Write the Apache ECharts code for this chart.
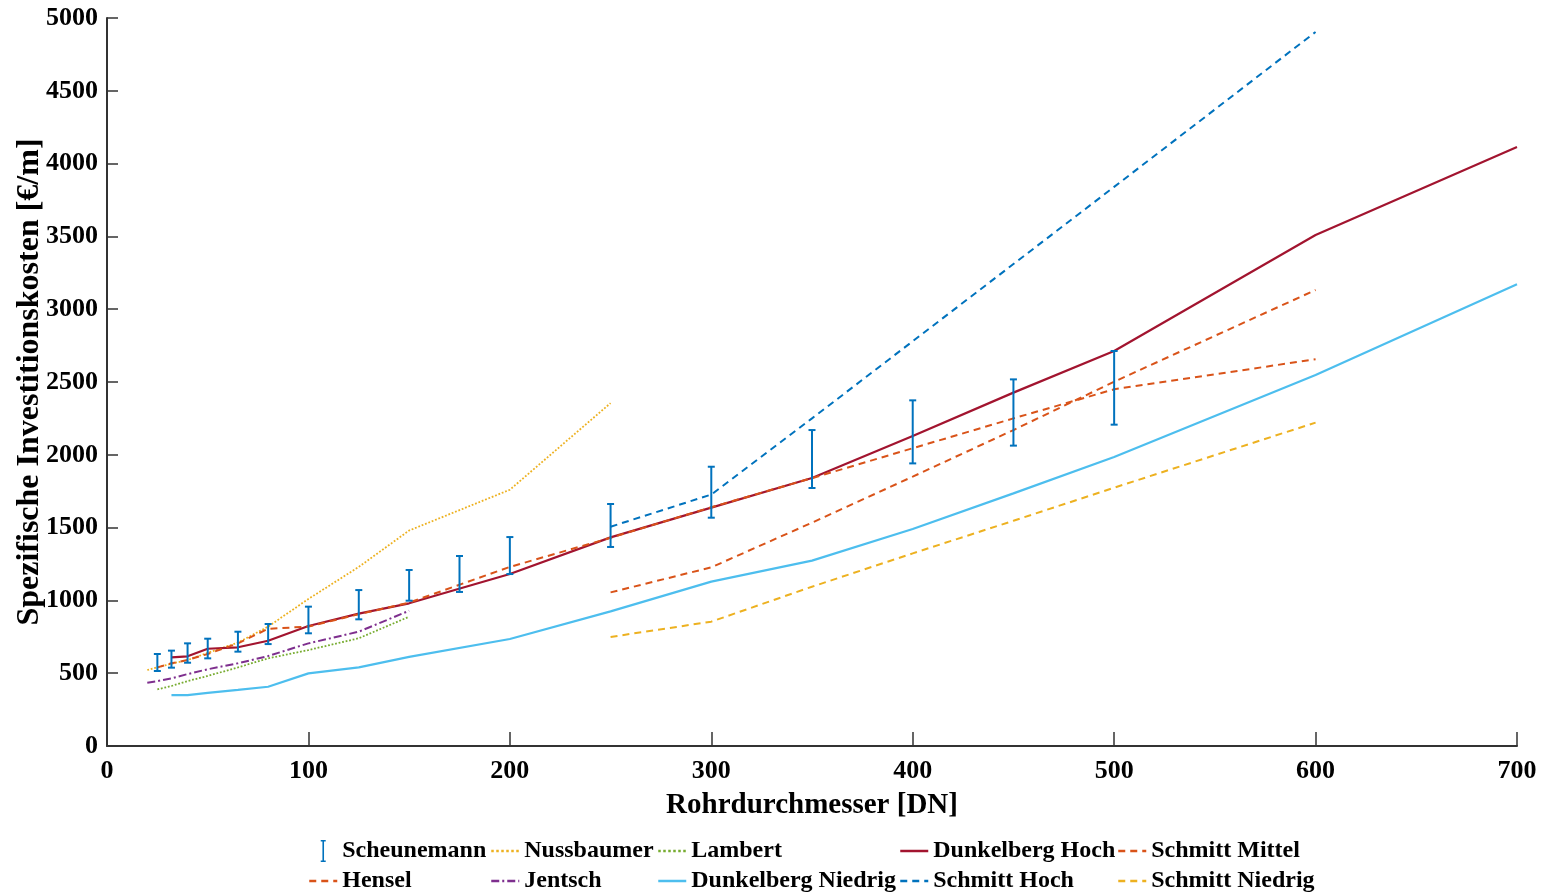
<!DOCTYPE html>
<html><head><meta charset="utf-8">
<script src="https://cdn.jsdelivr.net/npm/echarts@6/dist/echarts.min.js"></script>
<style>html,body{margin:0;padding:0;background:#fff}#c{width:1545px;height:896px}</style>
</head><body><div id="c"></div>
<script>
// ---- data ----
const xTicks = [0,100,200,300,400,500,600,700];
const yTicks = [0,500,1000,1500,2000,2500,3000,3500,4000,4500,5000];

const scheunemannDN   = [25,32,40,50,65,80,100,125,150,175,200,250,300,350,400,450,500];
const scheunemannLow  = [515,538,572,602,648,700,774,870,998,1058,1181,1367,1568,1772,1941,2063,2207];
const scheunemannHigh = [632,655,705,737,785,838,957,1071,1209,1305,1435,1662,1918,2170,2374,2518,2713];

const nussbaumerDN = [20,25,32,40,50,65,80,100,125,150,200,250];
const nussbaumer   = [522,540,565,590,640,710,820,1010,1230,1480,1760,2355];

const lambertDN = [25,32,40,50,65,80,100,125,150];
const lambert   = [389,412,446,481,540,602,659,740,888];

const dunkelbergDN   = [32,40,50,65,80,100,125,150,200,250,300,350,400,450,500,600,700];
const dunkelbergHoch = [609,616,668,678,723,824,909,980,1181,1433,1637,1841,2129,2427,2713,3510,4114];
const dunkelbergNiedrig = [350,350,365,385,407,499,540,612,735,925,1129,1273,1490,1735,1985,2548,3171];

const henselDN = [25,32,40,50,65,80,100,125,150,200,250,300,350,400,450,500,600];
const hensel   = [540,568,591,632,705,805,820,905,985,1230,1430,1640,1840,2045,2250,2450,2656];

const jentschDN = [20,25,32,40,50,65,80,100,125,150];
const jentsch   = [435,446,465,494,527,568,618,705,785,929];

const schmittDN      = [250,300,350,400,450,500,600];
const schmittHoch    = [1506,1727,2250,2780,3310,3840,4904];
const schmittMittel  = [1055,1227,1534,1850,2170,2502,3132];
const schmittNiedrig = [749,854,1094,1323,1547,1774,2221];

// ---- helpers ----
const zip = (xs, ys) => xs.map((x, i) => [x, ys[i]]);
const FONT = 'Liberation Serif';
const C = {blue:'#0072BD', orange:'#D95319', yellow:'#EDB120', purple:'#7E2F8E', green:'#77AC30', lblue:'#4DBEEE', red:'#A2142F'};

function lineSeries(name, xs, ys, color, type, width) {
  return {name, type:'line', data: zip(xs, ys), symbol:'none', silent:true,
    lineStyle:{color, width: width || 2, type}, itemStyle:{color}, z:2};
}

const errData = scheunemannDN.map((x, i) => [x, scheunemannLow[i], scheunemannHigh[i]]);

const series = [
  {name:'Scheunemann', type:'custom', data: errData, z:5,
    encode:{x:0, y:[1,2]},
    renderItem: function(params, api) {
      const lo = api.coord([api.value(0), api.value(1)]);
      const hi = api.coord([api.value(0), api.value(2)]);
      const w = 3.5;
      const st = {stroke: C.blue, lineWidth: 2};
      return {type:'group', children:[
        {type:'line', shape:{x1:lo[0], y1:lo[1], x2:hi[0], y2:hi[1]}, style:st},
        {type:'line', shape:{x1:lo[0]-w, y1:lo[1], x2:lo[0]+w, y2:lo[1]}, style:st},
        {type:'line', shape:{x1:hi[0]-w, y1:hi[1], x2:hi[0]+w, y2:hi[1]}, style:st}
      ]};
    },
    itemStyle:{color:C.blue}},
  lineSeries('Nussbaumer', nussbaumerDN, nussbaumer, C.yellow, 'dotted', 1.8),
  lineSeries('Lambert', lambertDN, lambert, C.green, 'dotted', 1.8),
  lineSeries('Dunkelberg Hoch', dunkelbergDN, dunkelbergHoch, C.red, 'solid', 2.2),
  lineSeries('Schmitt Mittel', schmittDN, schmittMittel, C.orange, [7,5], 2),
  lineSeries('Hensel', henselDN, hensel, C.orange, [7,5], 2),
  lineSeries('Jentsch', jentschDN, jentsch, C.purple, [8,3,2,3], 2),
  lineSeries('Dunkelberg Niedrig', dunkelbergDN, dunkelbergNiedrig, C.lblue, 'solid', 2.2),
  lineSeries('Schmitt Hoch', schmittDN, schmittHoch, C.blue, [7,5], 2),
  lineSeries('Schmitt Niedrig', schmittDN, schmittNiedrig, C.yellow, [7,5], 2)
];

const ibeam = 'path://M0,11h0.05v0.05h-0.05z M28,11h0.05v0.05h-0.05z M11.5,0H16.5V1.6H14.8V20.4H16.5V22H11.5V20.4H13.2V1.6H11.5Z';

function legendCol(left, names) {
  return {
    orient:'vertical', left, top:839, itemWidth:28, itemHeight:22, itemGap:6,
    selectedMode:false, padding:0,
    textStyle:{fontFamily:FONT, fontWeight:'bold', fontSize:24, color:'#000'},
    lineStyle:{width:2.5},
    data: names.map(n => n === 'Scheunemann'
      ? {name:n, icon: ibeam, itemStyle:{color:C.blue, borderWidth:0, opacity:1}}
      : {name:n, itemStyle:{opacity:0}})
  };
}

const option = {
  animation:false,
  backgroundColor:'#fff',
  grid:{left:107, right:28, top:18, bottom:150, containLabel:false, outerBoundsMode:'none'},
  xAxis:{type:'value', min:0, max:700, interval:100,
    name:'Rohrdurchmesser [DN]', nameLocation:'middle', nameGap:45, nameMoveOverlap:false,
    nameTextStyle:{fontFamily:FONT, fontWeight:'bold', fontSize:29, color:'#000'},
    axisLine:{show:true, lineStyle:{color:'#333', width:2}},
    axisTick:{show:true, inside:true, length:14, lineStyle:{color:'#333', width:1.5}},
    axisLabel:{fontFamily:FONT, fontWeight:'bold', fontSize:26, color:'#000', margin:12,
      formatter: v => xTicks.includes(v) ? String(v) : ''},
    splitLine:{show:false}},
  yAxis:{type:'value', min:0, max:5000, interval:500,
    name:'Spezifische Investitionskosten [€/m]', nameLocation:'middle', nameGap:61, nameMoveOverlap:false,
    nameTextStyle:{fontFamily:FONT, fontWeight:'bold', fontSize:32, color:'#000'},
    axisLine:{show:true, lineStyle:{color:'#333', width:2}},
    axisTick:{show:true, inside:true, length:11, lineStyle:{color:'#333', width:1.5}},
    axisLabel:{fontFamily:FONT, fontWeight:'bold', fontSize:26, color:'#000', margin:9,
      formatter: v => yTicks.includes(v) ? String(v) : ''},
    splitLine:{show:false}},
  legend:[
    legendCol(308, ['Scheunemann','Hensel']),
    legendCol(490, ['Nussbaumer','Jentsch']),
    legendCol(657, ['Lambert','Dunkelberg Niedrig']),
    legendCol(899, ['Dunkelberg Hoch','Schmitt Hoch']),
    legendCol(1117, ['Schmitt Mittel','Schmitt Niedrig'])
  ],
  series
};

const chart = echarts.init(document.getElementById('c'), null, {renderer:'canvas'});
chart.setOption(option);
</script>
</body></html>
